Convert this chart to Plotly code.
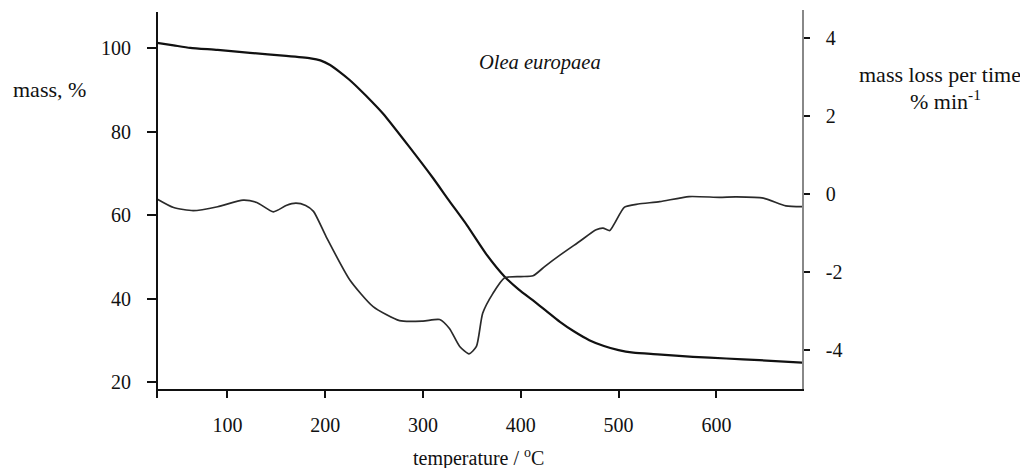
import plotly.graph_objects as go

# Mass (TG) curve
temp_mass = [28, 45, 62, 90, 123, 160, 185, 195, 205, 215, 225, 235, 247, 259, 286, 310, 327, 345, 365, 383.5, 398, 412.5, 425, 440, 455, 470, 485, 500, 515, 540, 576, 610, 644, 688]
mass_pct = [101.3, 100.7, 100.1, 99.6, 98.9, 98.2, 97.6, 97.1, 96.0, 94.3, 92.4, 90.2, 87.4, 84.4, 76.4, 69.0, 63.4, 57.6, 50.6, 45.3, 42.2, 39.6, 37.3, 34.5, 32.1, 30.1, 28.7, 27.7, 27.1, 26.7, 26.1, 25.7, 25.3, 24.7]

# Mass loss per time (DTG) curve
temp_dtg = [28, 45, 65, 90, 116, 130, 147, 160, 170, 180, 188, 201, 225, 249, 276, 300, 317, 327, 337.5, 347, 354.6, 361, 371.5, 383.5, 400, 412.5, 425, 440, 460, 477, 484, 491, 496, 506, 520, 542, 572, 603, 620, 648, 671, 688]
dtg = [-0.13, -0.35, -0.43, -0.33, -0.16, -0.22, -0.46, -0.30, -0.24, -0.30, -0.45, -1.1, -2.2, -2.89, -3.25, -3.26, -3.22, -3.45, -3.91, -4.10, -3.91, -3.06, -2.55, -2.15, -2.12, -2.10, -1.85, -1.57, -1.22, -0.92, -0.88, -0.94, -0.75, -0.34, -0.26, -0.20, -0.07, -0.09, -0.08, -0.11, -0.31, -0.33]

x_ticks = [100, 200, 300, 400, 500, 600]
left_ticks = [20, 40, 60, 80, 100]
right_ticks = [-4, -2, 0, 2, 4]
right_tick_text = ["-4", "-2", "0", "2", "4"]

FONT = "Liberation Serif, Times New Roman, serif"

fig = go.Figure()
fig.add_trace(go.Scatter(x=temp_mass, y=mass_pct, mode="lines",
                         line=dict(color="#111111", width=2.2, shape="spline", smoothing=0.6),
                         showlegend=False, hoverinfo="skip"))
fig.add_trace(go.Scatter(x=temp_dtg, y=dtg, mode="lines", yaxis="y2",
                         line=dict(color="#2a2a2a", width=1.7, shape="spline", smoothing=0.6),
                         showlegend=False, hoverinfo="skip"))

# page has an 8px body margin; work in page pixels and convert
OFF = 8
W, H = 1028 - OFF, 468 - OFF
L, R, T, B = 157, 802, 10, 389   # page pixels of plot area


def px(xp):
    return (xp - L) / (R - L)


def py(yp):
    return (B - yp) / (B - T)


fig.update_layout(
    width=W, height=H,
    margin=dict(l=L - OFF, r=(W + OFF) - R, t=T - OFF, b=(H + OFF) - B, pad=0),
    paper_bgcolor="white", plot_bgcolor="white",
    font=dict(family=FONT, size=20, color="#111111"),
    xaxis=dict(range=[28, 687.5], tickvals=x_ticks, showgrid=False, zeroline=False,
               showline=True, linecolor="#111111", linewidth=2,
               ticks="outside", ticklen=7, tickwidth=2, tickcolor="#111111",
               ticklabelstandoff=10, tickfont=dict(size=20)),
    yaxis=dict(range=[18.4, 109.17], tickvals=left_ticks, showgrid=False, zeroline=False,
               showline=False,
               ticks="outside", ticklen=9, tickwidth=1.5, tickcolor="#111111",
               ticklabelstandoff=12, tickfont=dict(size=20)),
    yaxis2=dict(range=[-5.0, 4.71], tickvals=right_ticks, ticktext=right_tick_text,
                overlaying="y", side="right", showgrid=False, zeroline=False,
                showline=True, linecolor="#888888", linewidth=1.5,
                ticks="outside", ticklen=6, tickwidth=2, tickcolor="#111111",
                ticklabelstandoff=12, tickfont=dict(size=20)),
)

# left axis line (extends slightly below the x axis)
fig.add_shape(type="line", xref="paper", yref="paper",
              x0=0, x1=0, y0=py(12), y1=py(398),
              line=dict(color="#111111", width=2))

fig.add_annotation(text="mass, %", xref="paper", yref="paper",
                   x=px(11), y=py(90), xanchor="left", yanchor="middle", showarrow=False,
                   font=dict(size=22, family=FONT))
fig.add_annotation(text="mass loss per time", xref="paper", yref="paper",
                   x=px(940), y=py(75), xanchor="center", yanchor="middle", showarrow=False,
                   font=dict(size=22, family=FONT))
fig.add_annotation(text="% min<sup>-1</sup>", xref="paper", yref="paper",
                   x=px(945), y=py(100), xanchor="center", yanchor="middle", showarrow=False,
                   font=dict(size=22, family=FONT))
fig.add_annotation(text="<i>Olea europaea</i>", xref="paper", yref="paper",
                   x=px(540), y=py(62), xanchor="center", yanchor="middle", showarrow=False,
                   font=dict(size=20.5, family=FONT))
fig.add_annotation(text="temperature / <sup>o</sup>C", xref="paper", yref="paper",
                   x=px(478), y=py(457), xanchor="center", yanchor="middle", showarrow=False,
                   font=dict(size=20, family=FONT))

fig.write_html("out.html")
